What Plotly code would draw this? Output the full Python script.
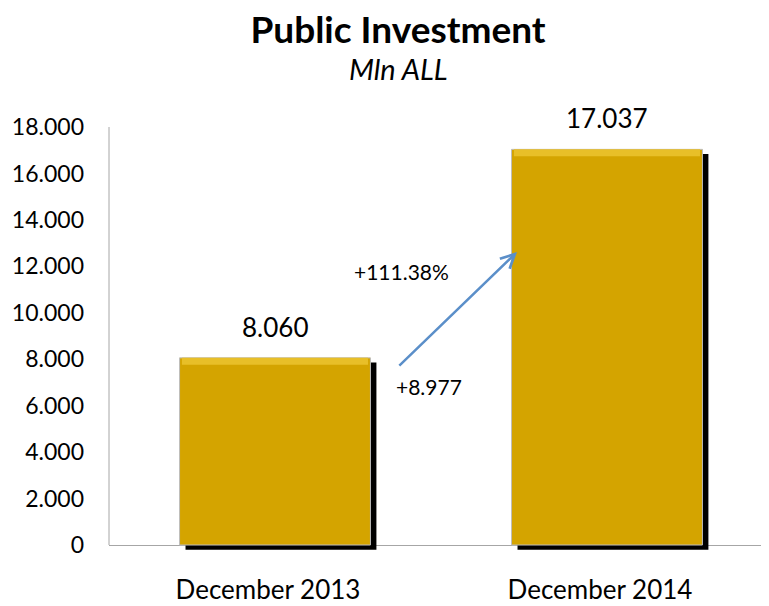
import plotly.graph_objects as go

categories = ["December 2013", "December 2014"]
values = [8060, 17037]
y_ticks = [0, 2000, 4000, 6000, 8000, 10000, 12000, 14000, 16000, 18000]
title_text = "Public Investment"
subtitle_text = "Mln ALL"
growth_pct_label = "+111.38%"
growth_abs_label = "+8.977"

FONT = "Lato"
BAR_W = 0.575
SHADOW_DX = 0.018
SHADOW_DY = 200
BEVEL_H = 300

# page body has an 8px margin: the figure is sized so that it fits the window
W, H = 761, 598
ML, MT, MB = 101, 119, 54

x_idx = list(range(len(categories)))

fig = go.Figure()

# shadow
fig.add_trace(go.Bar(
    x=x_idx, y=values, base=[-SHADOW_DY] * len(values),
    width=BAR_W, offset=-BAR_W / 2 + SHADOW_DX,
    marker=dict(color="#000000", line=dict(width=0)),
    hoverinfo="skip", showlegend=False,
))
# main bars
fig.add_trace(go.Bar(
    x=x_idx, y=values,
    width=BAR_W, offset=-BAR_W / 2,
    marker=dict(color="#D4A400", line=dict(color="#BDBDBD", width=1)),
    showlegend=False,
))
# top bevel highlight
fig.add_trace(go.Bar(
    x=x_idx, y=[BEVEL_H] * len(values), base=[v - BEVEL_H for v in values],
    width=BAR_W * 0.975, offset=-BAR_W * 0.975 / 2,
    marker=dict(color="#E8BF28", line=dict(width=0)),
    hoverinfo="skip", showlegend=False,
))

# value labels
for i, v in zip(x_idx, values):
    fig.add_annotation(
        x=i, y=v, text=f"{v:,}".replace(",", "."), showarrow=False,
        yanchor="bottom", yshift=13,
        font=dict(family=FONT, size=26, color="#000000"),
    )

# growth arrow
fig.add_annotation(
    x=0.729, y=12620, ax=0.37, ay=7660, axref="x", ayref="y",
    xref="x", yref="y", text="", showarrow=True,
    arrowhead=5, arrowsize=1.1, arrowwidth=2.5, arrowcolor="#5B8FC9",
)
fig.add_annotation(
    x=0.38, y=11780, text=growth_pct_label, showarrow=False,
    font=dict(family=FONT, size=21, color="#000000"),
)
fig.add_annotation(
    x=0.465, y=6830, text=growth_abs_label, showarrow=False,
    font=dict(family=FONT, size=21, color="#000000"),
)

# subtitle
fig.add_annotation(
    xref="paper", yref="paper", x=(390 - ML) / (W - ML), y=(H - MB - 60.5) / (H - MT - MB),
    text=f"<i>{subtitle_text}</i>", showarrow=False, yanchor="middle",
    font=dict(family=FONT, size=29, color="#000000"),
)

# y axis line
fig.add_shape(type="line", xref="paper", yref="y", x0=0, x1=0, y0=0, y1=18150,
              line=dict(color="#A6A6A6", width=1))

fig.update_layout(
    width=W, height=H,
    margin=dict(l=ML, r=0, t=MT, b=MB),
    paper_bgcolor="white", plot_bgcolor="white",
    separators=",.",
    barmode="overlay",
    title=dict(
        text=f"<b>{title_text}</b>",
        x=390 / W, xanchor="center", y=1 - 22 / H, yanchor="middle",
        font=dict(family=FONT, size=37, color="#000000"),
    ),
    xaxis=dict(
        range=[-0.5, 1.488], tickmode="array", tickvals=x_idx, ticktext=categories,
        showline=False, showgrid=False, zeroline=False, ticks="",
        tickfont=dict(family=FONT, size=26, color="#000000"),
        ticklabelstandoff=20, ticklabelshift=-7, automargin=False,
    ),
    yaxis=dict(
        range=[-300, 18000], tickmode="array", tickvals=y_ticks,
        tickformat=",d", showgrid=False, showline=False,
        zeroline=True, zerolinecolor="#A6A6A6", zerolinewidth=1,
        ticks="", tickfont=dict(family=FONT, size=23, color="#000000"),
        ticklabelstandoff=24, automargin=False,
    ),
)

fig.write_html("out.html")
